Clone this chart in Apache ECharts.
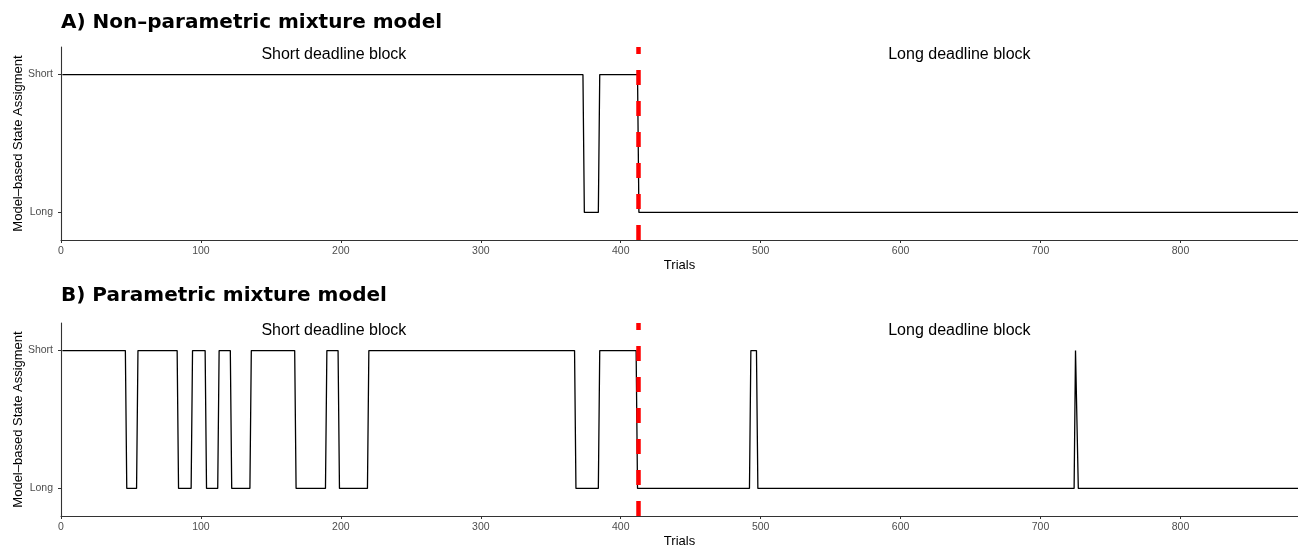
<!DOCTYPE html>
<html>
<head>
<meta charset="utf-8">
<script src="https://cdn.jsdelivr.net/npm/echarts@6.0.0/dist/echarts.min.js"></script>
<style>
  html, body { margin: 0; padding: 0; background: #fff; }
  #chart { width: 1298px; height: 545px; }
</style>
</head>
<body>
<div id="chart"></div>
<script type="text/javascript">
// state runs: [state, first trial, last trial]
var runsA = [
    ['Short', 1, 373], ['Long', 374, 384], ['Short', 385, 412], ['Long', 413, 884]
];
var runsB = [
    ['Short', 1, 46], ['Long', 47, 54], ['Short', 55, 83], ['Long', 84, 93],
    ['Short', 94, 103], ['Long', 104, 112], ['Short', 113, 121], ['Long', 122, 135],
    ['Short', 136, 167], ['Long', 168, 189], ['Short', 190, 198], ['Long', 199, 219],
    ['Short', 220, 367], ['Long', 368, 384], ['Short', 385, 411], ['Long', 412, 492],
    ['Short', 493, 497], ['Long', 498, 724], ['Short', 725, 726], ['Long', 727, 884]
];
var stateLevels = { 'Long': 1, 'Short': 2 };
var stateTicks = [1, 2];
var xTicks = [0, 100, 200, 300, 400, 500, 600, 700, 800];
var blockSwitch = 412.5;
var blockLabels = [['Short deadline block', 195], ['Long deadline block', 642]];
var panelTitles = ['A) Non\u2013parametric mixture model', 'B) Parametric mixture model'];

var FONT = "'Liberation Sans', Arial, Helvetica, sans-serif";

function toPoints(runs) {
    var pts = [];
    runs.forEach(function (r) {
        var v = stateLevels[r[0]];
        pts.push([r[1], v]);
        if (r[2] !== r[1]) pts.push([r[2], v]);
    });
    return pts;
}

var chart = echarts.init(document.getElementById('chart'), null, { renderer: 'canvas' });

var grids = [
    { left: 61, right: 0, top: 47, height: 193, outerBoundsMode: 'none', containLabel: false },
    { left: 61, right: 0, top: 323, height: 193, outerBoundsMode: 'none', containLabel: false }
];

function xAxisFor(i) {
    return {
        gridIndex: i, type: 'value', min: 0, max: 884, interval: 100,
        axisLine: { lineStyle: { color: '#333', width: 1.1 } },
        axisTick: { length: 3, customValues: xTicks, lineStyle: { color: '#333' } },
        axisLabel: {
            color: '#4d4d4d', fontSize: 10.5, fontFamily: FONT, margin: 6,
            customValues: xTicks
        },
        splitLine: { show: false },
        name: 'Trials', nameLocation: 'middle', nameGap: 19, nameMoveOverlap: false,
        nameTextStyle: { color: '#000', fontSize: 13, fontFamily: FONT }
    };
}

function yAxisFor(i) {
    return {
        gridIndex: i, type: 'value', min: 0.8, max: 2.2,
        axisLine: { show: true, lineStyle: { color: '#333', width: 1.1 } },
        axisTick: { show: true, length: 3, customValues: stateTicks, lineStyle: { color: '#333' } },
        axisLabel: {
            color: '#4d4d4d', fontSize: 10.5, fontFamily: FONT, margin: 8,
            customValues: stateTicks,
            formatter: function (v) { return v === 2 ? 'Short' : (v === 1 ? 'Long' : ''); }
        },
        splitLine: { show: false },
        name: 'Model\u2013based State Assigment', nameLocation: 'middle', nameGap: 36, nameRotate: 90,
        nameMoveOverlap: false,
        nameTextStyle: { color: '#000', fontSize: 13, fontFamily: FONT }
    };
}

function seriesFor(i, runs) {
    return {
        type: 'line', xAxisIndex: i, yAxisIndex: i,
        data: toPoints(runs),
        showSymbol: false, symbol: 'none', silent: true,
        lineStyle: { color: '#000', width: 1.3 },
        markLine: {
            silent: true, symbol: 'none',
            label: { show: false },
            lineStyle: { color: '#ff0000', width: 4.5, type: [15, 16] },
            data: [{ xAxis: blockSwitch }]
        },
        markPoint: {
            silent: true, symbol: 'rect', symbolSize: 0,
            label: {
                show: true, position: 'inside', color: '#000', fontSize: 16, fontFamily: FONT,
                formatter: '{b}'
            },
            data: blockLabels.map(function (b) {
                return { name: b[0], coord: [b[1], 2.145] };
            })
        }
    };
}

var titleStyle = { fontSize: 20, fontWeight: 'bold', color: '#000', fontFamily: "'DejaVu Sans', sans-serif" };

chart.setOption({
    animation: false,
    backgroundColor: '#fff',
    title: [
        { text: panelTitles[0], left: 61, top: 13, padding: 0, textStyle: titleStyle },
        { text: panelTitles[1], left: 61, top: 286, padding: 0, textStyle: titleStyle }
    ],
    grid: grids,
    xAxis: [xAxisFor(0), xAxisFor(1)],
    yAxis: [yAxisFor(0), yAxisFor(1)],
    series: [seriesFor(0, runsA), seriesFor(1, runsB)]
});
</script>
</body>
</html>
